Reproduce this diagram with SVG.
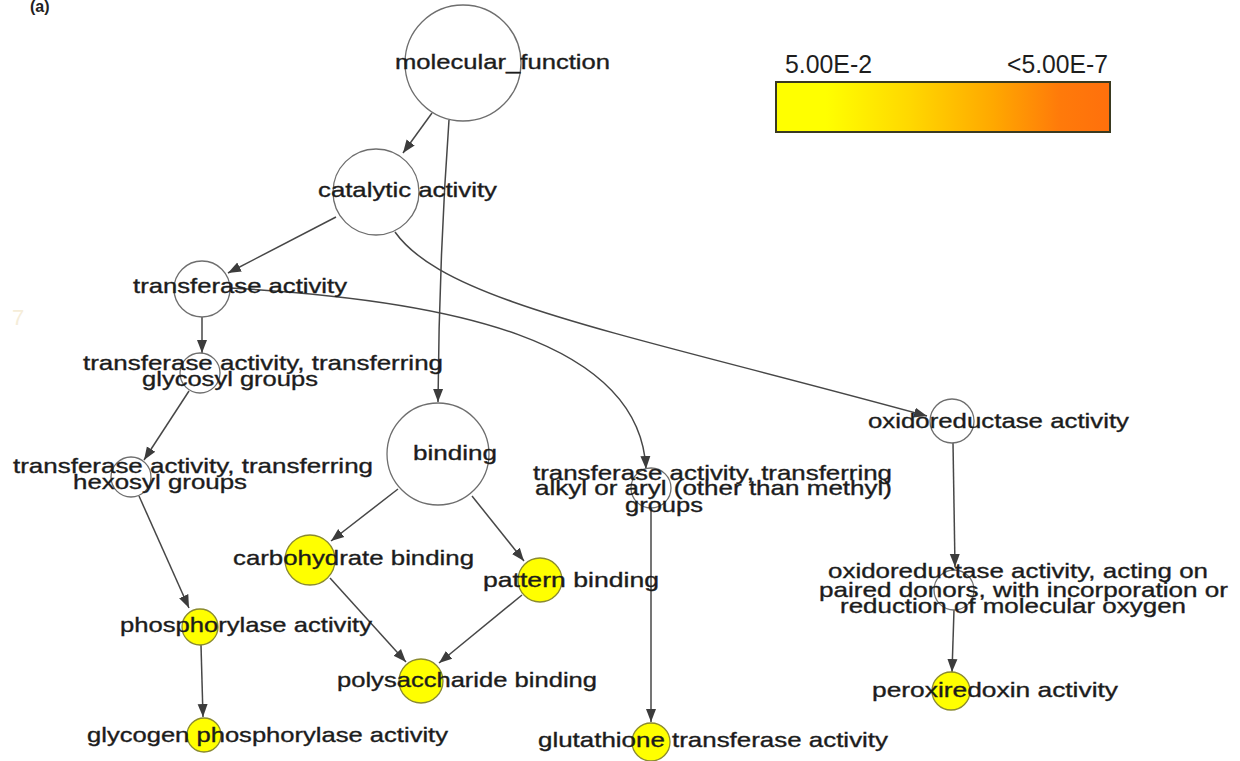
<svg xmlns="http://www.w3.org/2000/svg" width="1240" height="761" viewBox="0 0 1240 761">
<style>
.n{fill:#ffffff;stroke:#6e6e6e;stroke-width:1.3}
.y{fill:#ffff00;stroke:#8a8a30;stroke-width:1.3}
.t{font-family:"Liberation Sans",Arial,sans-serif;font-size:21px;fill:#1c1c1c;stroke:#1c1c1c;stroke-width:0.35}
.e{fill:none;stroke:#474747;stroke-width:1.5;marker-end:url(#ah)}
.lg{font-family:"Liberation Sans",Arial,sans-serif;font-size:25px;fill:#1e1e1e}
</style>
<defs>
<marker id="ah" markerUnits="userSpaceOnUse" markerWidth="14" markerHeight="12" refX="13" refY="5" orient="auto" viewBox="0 0 14 10">
<path d="M0,0 L13,5 L0,10 Z" fill="#3c3c3c"/>
</marker>
<linearGradient id="grad" x1="0" y1="0" x2="1" y2="0">
<stop offset="0" stop-color="#ffff00"/>
<stop offset="0.15" stop-color="#ffff00"/>
<stop offset="0.4" stop-color="#ffd800"/>
<stop offset="0.65" stop-color="#ffa800"/>
<stop offset="0.85" stop-color="#ff7a0a"/>
<stop offset="1" stop-color="#ff700c"/>
</linearGradient>
</defs>
<rect width="1240" height="761" fill="#ffffff"/>
<text x="30" y="12" font-family="Liberation Sans,Arial,sans-serif" font-size="16" font-weight="bold" fill="#222">(a)</text>
<text x="12" y="325" font-family="Liberation Sans,Arial,sans-serif" font-size="22" fill="#f0e2c0" opacity="0.6">7</text>

<g id="legend">
<rect x="776" y="82" width="334" height="50" fill="url(#grad)" stroke="#3a3a20" stroke-width="2"/>
<text class="lg" x="785" y="73" textLength="87" lengthAdjust="spacingAndGlyphs">5.00E-2</text>
<text class="lg" x="1007" y="73" textLength="101" lengthAdjust="spacingAndGlyphs">&lt;5.00E-7</text>
</g>

<g id="connectors">
<path class="e" d="M432,113 L403,153"/>
<path class="e" d="M449,120 Q439,260 438,402"/>
<path class="e" d="M336,217 L228,273"/>
<path class="e" d="M395,232 C445,302 620,332 927,416"/>
<path class="e" d="M230,288 C450,300 640,340 646,469"/>
<path class="e" d="M202,317 L202,353"/>
<path class="e" d="M189,391 L144,460"/>
<path class="e" d="M139,496 L189,608"/>
<path class="e" d="M201,645 L203,717"/>
<path class="e" d="M398,489 L331,541"/>
<path class="e" d="M472,496 L524,561"/>
<path class="e" d="M330,578 L406,662"/>
<path class="e" d="M522,595 L439,663"/>
<path class="e" d="M651,508 L651,722"/>
<path class="e" d="M953,443 L955,567"/>
<path class="e" d="M954,610 L952,672"/>
</g>

<g id="molecular_function">
<circle class="n" cx="463" cy="63" r="58"/>
<text class="t" x="395" y="69" textLength="215" lengthAdjust="spacingAndGlyphs">molecular_function</text>
</g>
<g id="catalytic_activity">
<circle class="n" cx="376" cy="192" r="43"/>
<text class="t" x="318" y="197" textLength="179" lengthAdjust="spacingAndGlyphs">catalytic activity</text>
</g>
<g id="transferase_activity">
<circle class="n" cx="202" cy="289" r="28"/>
<text class="t" x="133" y="293" textLength="214" lengthAdjust="spacingAndGlyphs">transferase activity</text>
</g>
<g id="glycosyl">
<circle class="n" cx="200" cy="373" r="20"/>
<text class="t" x="83" y="370" textLength="360" lengthAdjust="spacingAndGlyphs">transferase activity, transferring</text>
<text class="t" x="142" y="386" textLength="176" lengthAdjust="spacingAndGlyphs">glycosyl groups</text>
</g>
<g id="hexosyl">
<circle class="n" cx="131" cy="477" r="20"/>
<text class="t" x="13" y="473" textLength="360" lengthAdjust="spacingAndGlyphs">transferase activity, transferring</text>
<text class="t" x="73" y="489" textLength="174" lengthAdjust="spacingAndGlyphs">hexosyl groups</text>
</g>
<g id="binding">
<circle class="n" cx="438" cy="454" r="51"/>
<text class="t" x="413" y="460" textLength="84" lengthAdjust="spacingAndGlyphs">binding</text>
</g>
<g id="carbohydrate_binding">
<circle class="y" cx="310" cy="560" r="25"/>
<text class="t" x="233" y="565" textLength="241" lengthAdjust="spacingAndGlyphs">carbohydrate binding</text>
</g>
<g id="pattern_binding">
<circle class="y" cx="540" cy="580" r="22"/>
<text class="t" x="483" y="587" textLength="176" lengthAdjust="spacingAndGlyphs">pattern binding</text>
</g>
<g id="polysaccharide_binding">
<circle class="y" cx="421" cy="681" r="22"/>
<text class="t" x="337" y="687" textLength="260" lengthAdjust="spacingAndGlyphs">polysaccharide binding</text>
</g>
<g id="phosphorylase_activity">
<circle class="y" cx="200" cy="627" r="18"/>
<text class="t" x="120" y="632" textLength="252" lengthAdjust="spacingAndGlyphs">phosphorylase activity</text>
</g>
<g id="glycogen_phosphorylase_activity">
<circle class="y" cx="204" cy="735" r="17"/>
<text class="t" x="87" y="742" textLength="361" lengthAdjust="spacingAndGlyphs">glycogen phosphorylase activity</text>
</g>
<g id="alkyl_aryl">
<circle class="n" cx="651" cy="488" r="20"/>
<text class="t" x="533" y="480" textLength="359" lengthAdjust="spacingAndGlyphs">transferase activity, transferring</text>
<text class="t" x="535" y="495" textLength="357" lengthAdjust="spacingAndGlyphs">alkyl or aryl (other than methyl)</text>
<text class="t" x="625" y="512" textLength="78" lengthAdjust="spacingAndGlyphs">groups</text>
</g>
<g id="glutathione_transferase_activity">
<circle class="y" cx="651" cy="742" r="19"/>
<text class="t" x="538" y="747" textLength="350" lengthAdjust="spacingAndGlyphs">glutathione transferase activity</text>
</g>
<g id="oxidoreductase_activity">
<circle class="n" cx="952" cy="421" r="22"/>
<text class="t" x="868" y="428" textLength="261" lengthAdjust="spacingAndGlyphs">oxidoreductase activity</text>
</g>
<g id="oxidoreductase_paired_donors">
<circle class="n" cx="954" cy="590" r="20"/>
<text class="t" x="828" y="578" textLength="380" lengthAdjust="spacingAndGlyphs">oxidoreductase activity, acting on</text>
<text class="t" x="819" y="597" textLength="409" lengthAdjust="spacingAndGlyphs">paired donors, with incorporation or</text>
<text class="t" x="840" y="613" textLength="346" lengthAdjust="spacingAndGlyphs">reduction of molecular oxygen</text>
</g>
<g id="peroxiredoxin_activity">
<circle class="y" cx="951" cy="691" r="19"/>
<text class="t" x="872" y="697" textLength="246" lengthAdjust="spacingAndGlyphs">peroxiredoxin activity</text>
</g>
</svg>
